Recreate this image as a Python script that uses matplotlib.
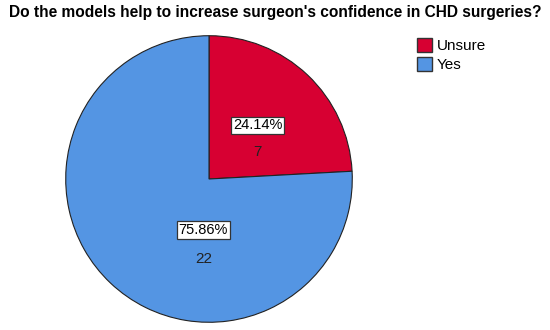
import matplotlib.pyplot as plt
from matplotlib.patches import Patch

plt.rcParams['font.family'] = ['Liberation Sans', 'DejaVu Sans']

categories = ['Unsure', 'Yes']
counts = [7, 22]
colors = ['#D70032', '#5495E3']
title = "Do the models help to increase surgeon's confidence in CHD surgeries?"

total = sum(counts)
pcts = [c / total * 100 for c in counts]

fig = plt.figure(figsize=(5.5, 3.3), dpi=100)
ax = fig.add_axes([65 / 550, 7 / 330, 288 / 550, 288 / 330])
wedges, _ = ax.pie(counts, colors=colors, startangle=90, counterclock=False,
                   radius=1, wedgeprops=dict(edgecolor='#222222', linewidth=0.8))
ax.set_xlim(-1.005, 1.005)
ax.set_ylim(-1.005, 1.005)
ax.set_aspect('equal')
ax.axis('off')

# label anchor points inside each slice (SPSS style placement)
label_pos = [(0.34, 0.375), (-0.04, -0.355)]
count_drop = [0.19, 0.20]
for (x, y), p, c, d in zip(label_pos, pcts, counts, count_drop):
    ax.text(x, y, f'{p:.2f}%', ha='center', va='center', fontsize=10.5,
            bbox=dict(boxstyle='square,pad=0.12', fc='white', ec='#333333', lw=0.9))
    ax.text(x, y - d, str(c), ha='center', va='center', fontsize=11, color='#222222')

fig.text(0.5, 1 - 13 / 330, title, ha='center', va='center',
         fontsize=11.2, fontweight='bold')

handles = [Patch(facecolor=col, edgecolor='#333333', label=cat)
           for col, cat in zip(colors, categories)]
fig.legend(handles=handles, loc='upper left', bbox_to_anchor=(411 / 550, 1 - 32 / 330),
           frameon=False, fontsize=11, handlelength=1.0, handleheight=1.0,
           handletextpad=0.3, labelspacing=0.25, borderaxespad=0)

fig.savefig('out.png', dpi=100)
